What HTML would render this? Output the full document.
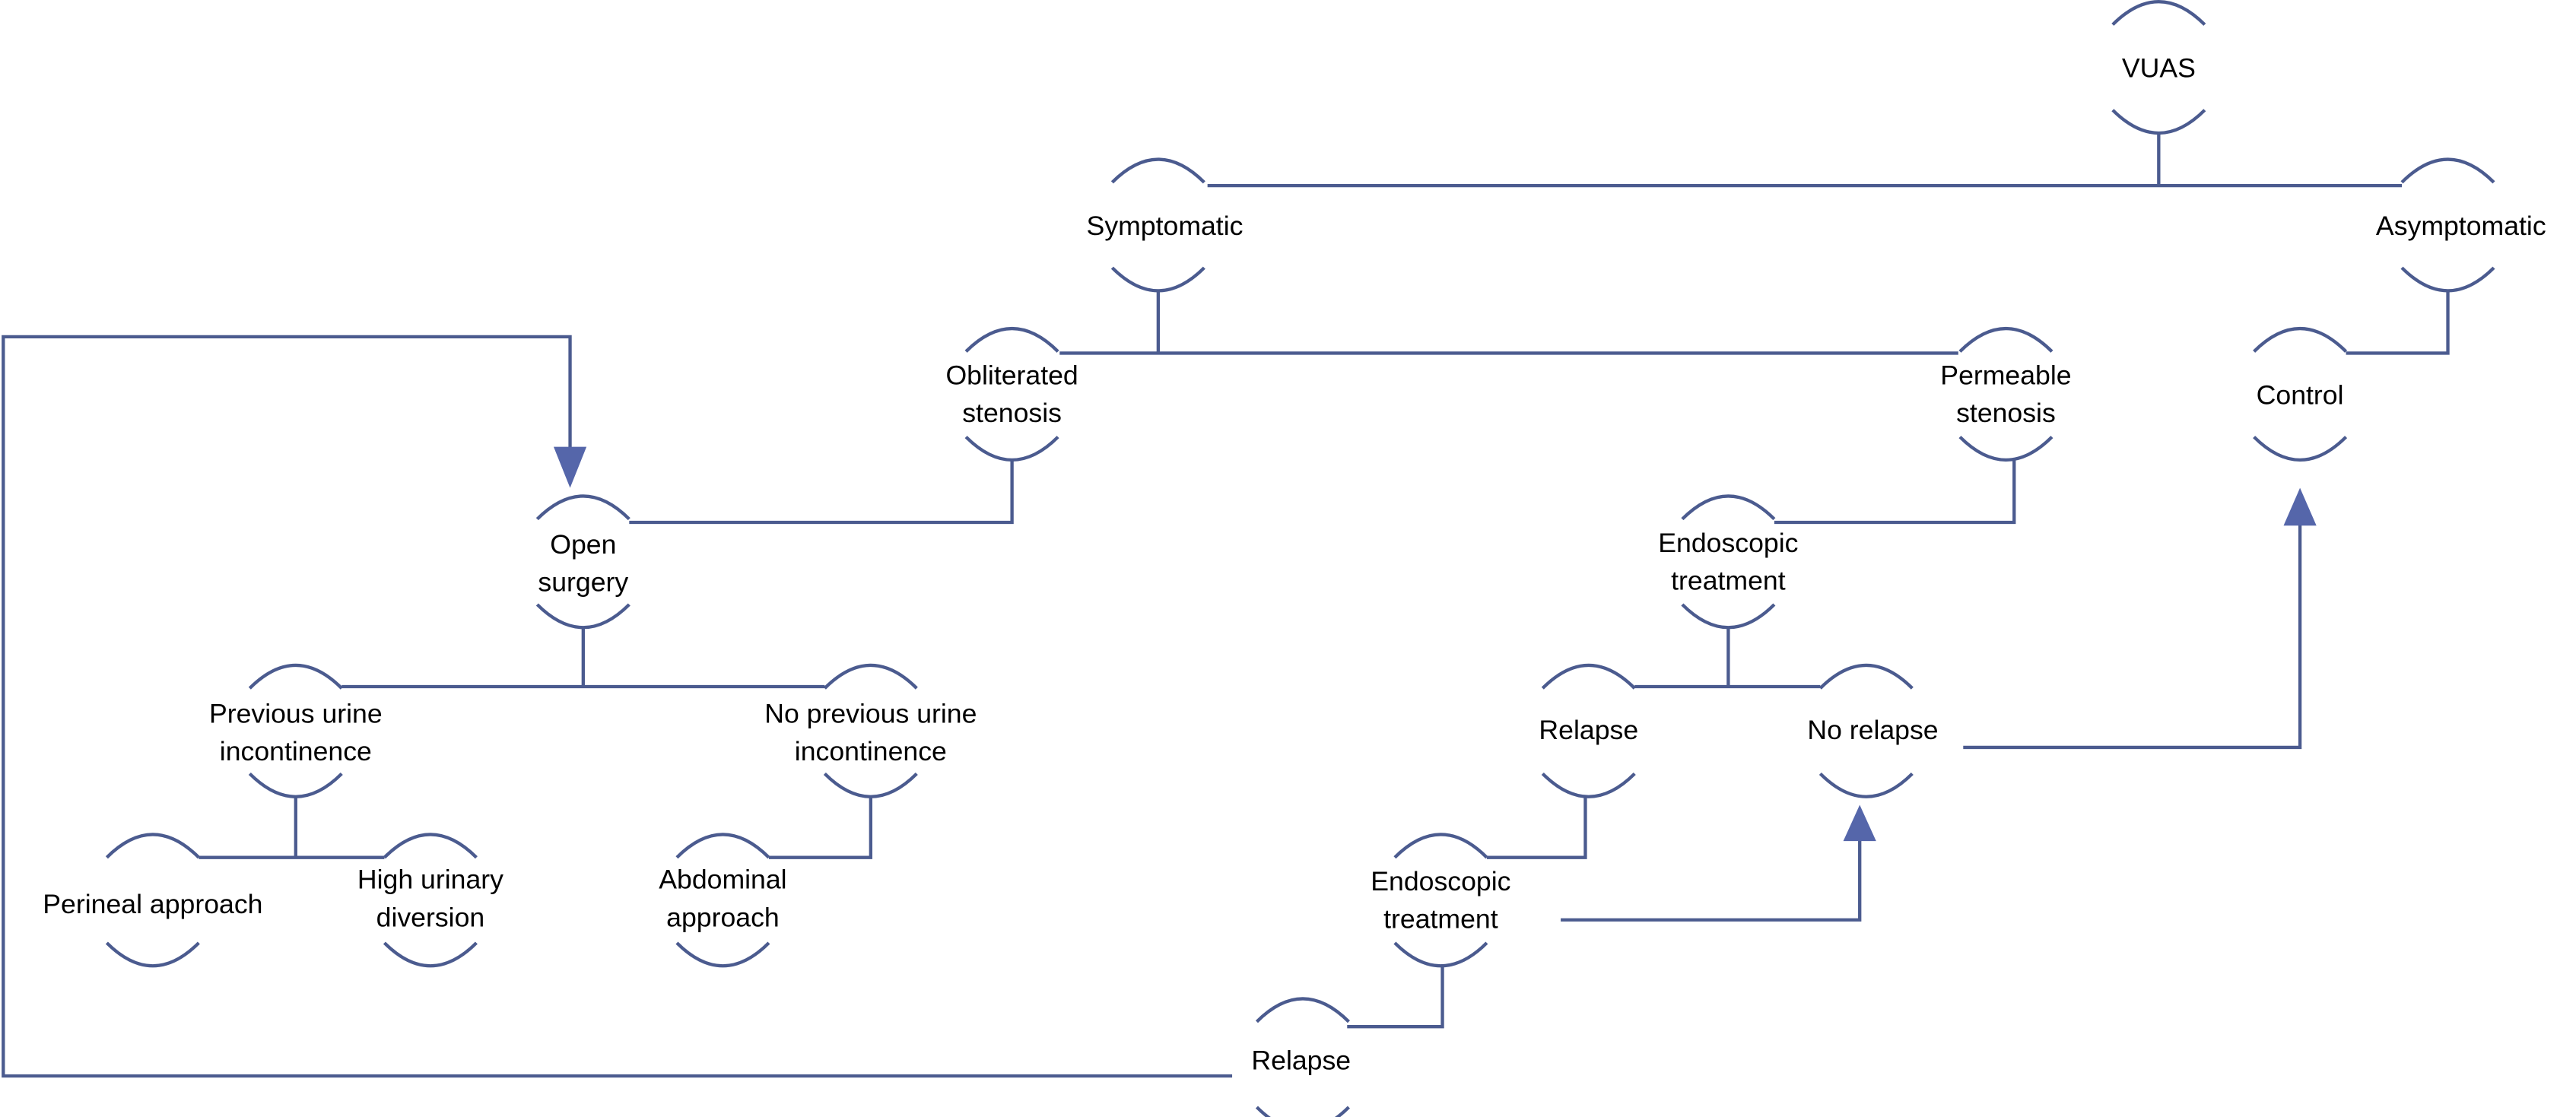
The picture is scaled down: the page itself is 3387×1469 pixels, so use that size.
<!DOCTYPE html>
<html><head><meta charset="utf-8"><style>
html,body{margin:0;padding:0;background:#fff;}
svg{display:block;}
text{font-family:"Liberation Sans",sans-serif;font-size:16.5px;fill:#000;text-anchor:middle;}
</style></head><body>
<svg width="3387" height="1469" viewBox="0 0 1568 680" preserveAspectRatio="none" xmlns="http://www.w3.org/2000/svg">
<defs>
<g id="n"><path d="M-28,-26 Q0,-54 28,-26 M-28,26 Q0,54 28,26" fill="none" stroke="#4b5b8f" stroke-width="2"/></g>
</defs>
<g fill="none" stroke="#4b5b8f" stroke-width="2">
<!-- VUAS -->
<path d="M1314,81 V113 M735,113 H1462"/>
<path d="M705,177 V215 M645,215 H1192"/>
<path d="M1490,177 V215 H1428"/>
<path d="M616,280 V318 H383"/>
<path d="M1226,280 V318 H1080"/>
<path d="M355,382 V418 M208,418 H502"/>
<path d="M1052,382 V418 M995,418 H1108"/>
<path d="M180,485 V522 M121,522 H234"/>
<path d="M530,485 V522 H468"/>
<path d="M965,484 V522 H905"/>
<path d="M878,587 V625 H820"/>
<path d="M950,560 H1132 V510"/>
<path d="M1195,455 H1400 V318"/>
<path d="M750,655 H2 V205 H347 V275"/>
</g>
<g fill="#5566aa">
<polygon points="337,272 357,272 347,297"/>
<polygon points="1122,512 1142,512 1132,490"/>
<polygon points="1390,320 1410,320 1400,297"/>
</g>
<use href="#n" x="1314" y="41"/>
<use href="#n" x="705" y="137"/>
<use href="#n" x="1490" y="137"/>
<use href="#n" x="616" y="240"/>
<use href="#n" x="1221" y="240"/>
<use href="#n" x="1400" y="240"/>
<use href="#n" x="355" y="342"/>
<use href="#n" x="1052" y="342"/>
<use href="#n" x="180" y="445"/>
<use href="#n" x="530" y="445"/>
<use href="#n" x="967" y="445"/>
<use href="#n" x="1136" y="445"/>
<use href="#n" x="93" y="548"/>
<use href="#n" x="262" y="548"/>
<use href="#n" x="440" y="548"/>
<use href="#n" x="877" y="548"/>
<use href="#n" x="793" y="648"/>
<text x="1314" y="47">VUAS</text>
<text x="709" y="143">Symptomatic</text>
<text x="1498" y="143">Asymptomatic</text>
<text x="616" y="234">Obliterated</text><text x="616" y="257">stenosis</text>
<text x="1221" y="234">Permeable</text><text x="1221" y="257">stenosis</text>
<text x="1400" y="246">Control</text>
<text x="355" y="337">Open</text><text x="355" y="360">surgery</text>
<text x="1052" y="336">Endoscopic</text><text x="1052" y="359">treatment</text>
<text x="180" y="440">Previous urine</text><text x="180" y="463">incontinence</text>
<text x="530" y="440">No previous urine</text><text x="530" y="463">incontinence</text>
<text x="967" y="450">Relapse</text>
<text x="1140" y="450">No relapse</text>
<text x="93" y="556">Perineal approach</text>
<text x="262" y="541">High urinary</text><text x="262" y="564">diversion</text>
<text x="440" y="541">Abdominal</text><text x="440" y="564">approach</text>
<text x="877" y="542">Endoscopic</text><text x="877" y="565">treatment</text>
<text x="792" y="651">Relapse</text>
</svg>
</body></html>
